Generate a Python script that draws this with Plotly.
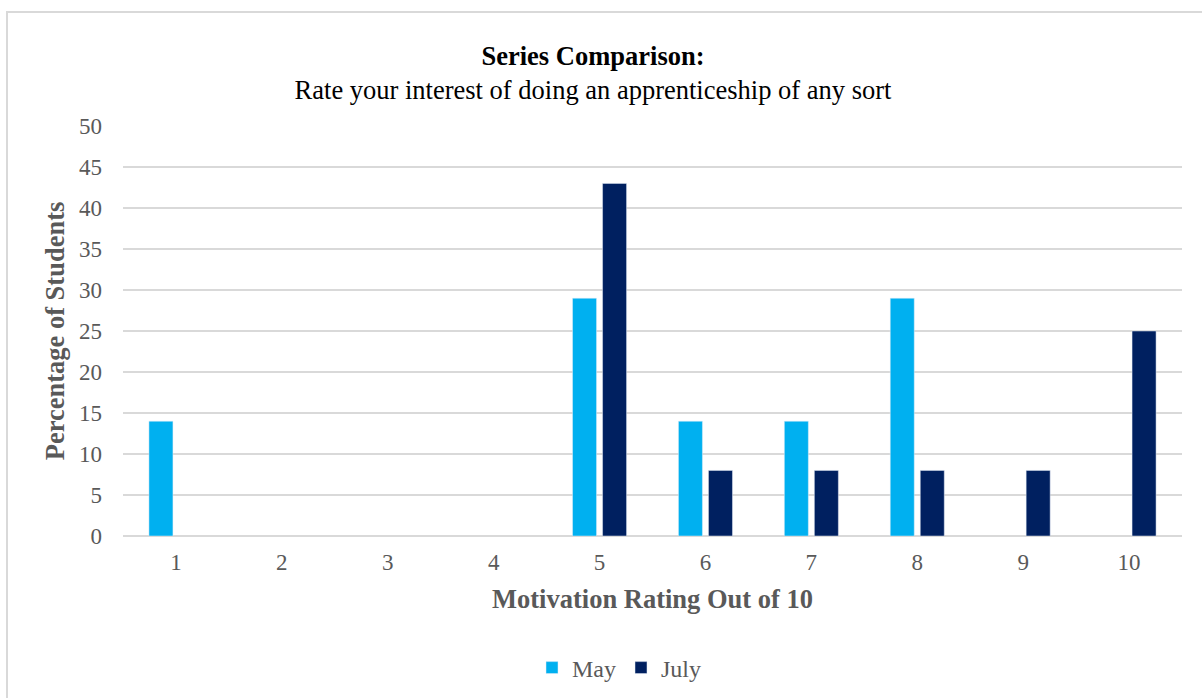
import plotly.graph_objects as go

categories = ["1", "2", "3", "4", "5", "6", "7", "8", "9", "10"]
may_values = [14, None, None, None, 29, 14, 14, 29, None, None]
july_values = [None, None, None, None, 43, 8, 8, 8, 8, 25]
y_ticks = [0, 5, 10, 15, 20, 25, 30, 35, 40, 45, 50]

FONT = "Liberation Serif, Times New Roman, serif"
GRAY = "#595959"

fig = go.Figure()
fig.add_trace(go.Bar(x=categories, y=may_values, name="May", marker_color="#00B0F0"))
fig.add_trace(go.Bar(x=categories, y=july_values, name="July", marker_color="#002060"))

W, H = 1202, 698
L, R, T, B = 123, 20, 126, 162
pw, ph = W - L - R, H - T - B

fig.update_layout(
    width=W, height=H,
    margin=dict(l=L, r=R, t=T, b=B, autoexpand=False),
    paper_bgcolor="white", plot_bgcolor="white",
    font=dict(family=FONT, color=GRAY, size=23),
    barmode="group", bargap=0.433, bargroupgap=0.2,
    title=dict(
        text="<b>Series Comparison:</b><br>Rate your interest of doing an apprenticeship of any sort",
        x=593 / W, xanchor="center", y=1 - 65 / H, yanchor="middle",
        font=dict(family=FONT, color="black", size=26.5),
    ),
    xaxis=dict(
        type="category", showgrid=False, showline=False, ticks="", automargin=False,
        tickfont=dict(size=23, color=GRAY), ticklabelstandoff=10,
        title=dict(text="<b>Motivation Rating Out of 10</b>", font=dict(size=26.5, color=GRAY), standoff=15),
    ),
    yaxis=dict(
        range=[0, 50], tickvals=y_ticks, showgrid=True, gridcolor="#D9D9D9", gridwidth=1.5,
        zeroline=True, zerolinecolor="#D9D9D9", zerolinewidth=1.5, automargin=False,
        tickfont=dict(size=23, color=GRAY), ticklabelstandoff=20,
        title=dict(text="<b>Percentage of Students</b>", font=dict(size=26.5, color=GRAY), standoff=6),
    ),
    legend=dict(
        orientation="h", x=0.5 - 33 / pw, xanchor="center", y=-(668 - 536) / ph, yanchor="middle",
        font=dict(size=24, color=GRAY), itemwidth=30, traceorder="normal",
    ),
    shapes=[dict(
        type="rect", xref="paper", yref="paper",
        x0=(7 - L) / pw, x1=(W + 20 - L) / pw,
        y0=-(H + 20 - (H - B)) / ph, y1=((H - B) - 12) / ph,
        line=dict(color="#D9D9D9", width=2), fillcolor="rgba(0,0,0,0)", layer="below",
    )],
)

fig.write_html("out.html")
